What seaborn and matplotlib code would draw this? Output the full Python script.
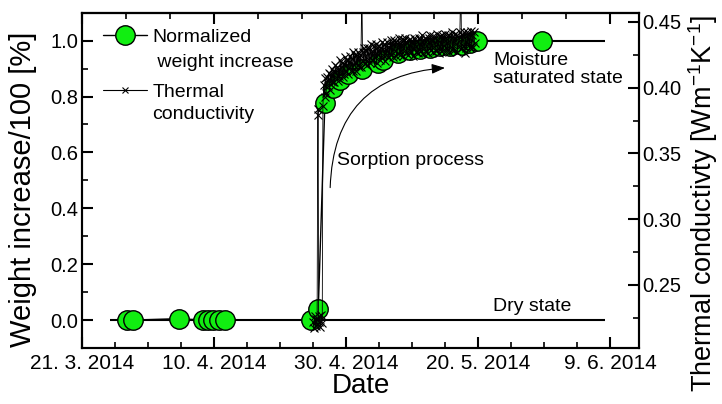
import matplotlib
matplotlib.use("Agg")
import matplotlib.pyplot as plt
import seaborn as sns
from matplotlib.ticker import MultipleLocator
from matplotlib.lines import Line2D

# ---------------- data (days since 21.3.2014) ----------------
x_tick_days = [0, 20, 40, 60, 80]
x_tick_labels = ["21. 3. 2014", "10. 4. 2014", "30. 4. 2014", "20. 5. 2014", "9. 6. 2014"]

weight_days = [6.8, 7.8, 14.7, 18.4, 19.1, 19.9, 20.8, 21.7, 34.7, 35.8,
               36.8, 38.0, 39.1, 40.3, 42.4, 44.8, 45.6, 47.9, 49.7, 51.2,
               52.7, 54.2, 55.8, 57.6, 58.8, 59.8, 69.7]
weight_vals = [0.0, 0.0, 0.005, 0.0, 0.0, 0.0, 0.0, 0.0, 0.0, 0.04,
               0.776, 0.83, 0.86, 0.88, 0.90, 0.92, 0.93, 0.955, 0.965, 0.97,
               0.975, 0.98, 0.98, 0.985, 0.99, 1.0, 1.0]

cond_days = [35.00, 35.12, 35.25, 35.38, 35.50, 35.62, 35.72, 35.78, 35.85, 35.97,
             36.10, 36.25, 36.40,
             36.500, 36.625, 36.750, 36.875, 37.000, 37.125, 37.250, 37.375,
             37.500, 37.625, 37.750, 37.875, 38.000, 38.125, 38.250, 38.375,
             38.500, 38.625, 38.750, 38.875, 39.000, 39.125, 39.250, 39.375,
             39.500, 39.625, 39.750, 39.875, 40.000, 40.125, 40.250, 40.375,
             40.500, 40.625, 40.750, 40.875, 41.000, 41.125, 41.250, 41.375,
             41.500, 41.625, 41.750, 41.875, 42.000, 42.125, 42.250, 42.400,
             42.500, 42.625, 42.750, 42.875, 43.000, 43.125, 43.250, 43.375,
             43.500, 43.625, 43.750, 43.875, 44.000, 44.125, 44.250, 44.375,
             44.500, 44.625, 44.750, 44.875, 45.000, 45.125, 45.250, 45.375,
             45.500, 45.625, 45.750, 45.875, 46.000, 46.125, 46.250, 46.375,
             46.500, 46.625, 46.750, 46.875, 47.000, 47.125, 47.250, 47.375,
             47.500, 47.625, 47.750, 47.875, 48.000, 48.125, 48.250, 48.375,
             48.500, 48.625, 48.750, 48.875, 49.000, 49.125, 49.250, 49.375,
             49.500, 49.625, 49.750, 49.875, 50.000, 50.125, 50.250, 50.375,
             50.500, 50.625, 50.750, 50.875, 51.000, 51.125, 51.250, 51.375,
             51.500, 51.625, 51.750, 51.875, 52.000, 52.125, 52.250, 52.375,
             52.500, 52.625, 52.750, 52.875, 53.000, 53.125, 53.250, 53.375,
             53.500, 53.625, 53.750, 53.875, 54.000, 54.125, 54.250, 54.375,
             54.500, 54.625, 54.750, 54.875, 55.000, 55.125, 55.250, 55.375,
             55.500, 55.625, 55.750, 55.875, 56.000, 56.125, 56.250, 56.375,
             56.500, 56.625, 56.750, 56.875, 57.000, 57.125, 57.250, 57.400,
             57.500, 57.625, 57.750, 57.875, 58.000, 58.125, 58.250, 58.375,
             58.500, 58.625, 58.750, 58.875, 59.000, 59.125, 59.250, 59.375,
             59.500]
cond_vals = [0.222, 0.217, 0.226, 0.219, 0.224, 0.220, 0.379, 0.384, 0.222, 0.226,
             0.218, 0.227, 0.221,
             0.386, 0.402, 0.393, 0.407, 0.396, 0.408, 0.401, 0.411,
             0.398, 0.410, 0.405, 0.414, 0.404, 0.412, 0.404, 0.417,
             0.408, 0.416, 0.405, 0.414, 0.409, 0.421, 0.411, 0.419,
             0.408, 0.418, 0.410, 0.423, 0.413, 0.421, 0.410, 0.421,
             0.416, 0.424, 0.413, 0.422, 0.413, 0.427, 0.417, 0.425,
             0.413, 0.425, 0.417, 0.427, 0.416, 0.425, 0.416, 0.478,
             0.427, 0.420, 0.430, 0.418, 0.428, 0.417, 0.430, 0.422,
             0.430, 0.419, 0.433, 0.421, 0.428, 0.421, 0.432, 0.423,
             0.433, 0.419, 0.431, 0.425, 0.432, 0.421, 0.430, 0.423,
             0.435, 0.425, 0.433, 0.420, 0.432, 0.425, 0.435, 0.423,
             0.431, 0.426, 0.436, 0.425, 0.434, 0.423, 0.436, 0.428,
             0.435, 0.424, 0.433, 0.426, 0.438, 0.425, 0.434, 0.428,
             0.437, 0.424, 0.436, 0.429, 0.438, 0.426, 0.434, 0.425,
             0.436, 0.428, 0.437, 0.427, 0.435, 0.424, 0.438, 0.430,
             0.437, 0.427, 0.435, 0.426, 0.438, 0.429, 0.437, 0.428,
             0.440, 0.426, 0.436, 0.430, 0.438, 0.427, 0.436, 0.426,
             0.438, 0.430, 0.440, 0.429, 0.437, 0.427, 0.439, 0.431,
             0.438, 0.428, 0.441, 0.430, 0.436, 0.426, 0.439, 0.430,
             0.440, 0.429, 0.438, 0.432, 0.441, 0.428, 0.437, 0.430,
             0.440, 0.427, 0.439, 0.431, 0.442, 0.429, 0.439, 0.429,
             0.441, 0.433, 0.440, 0.427, 0.438, 0.431, 0.442, 0.482,
             0.430, 0.440, 0.432, 0.442, 0.426, 0.439, 0.430, 0.442,
             0.433, 0.441, 0.430, 0.443, 0.432, 0.440, 0.431, 0.442,
             0.434]

GREEN = "#11ee11"

# ---------------- style ----------------
sns.set_style("ticks")
plt.rcParams["font.family"] = ["Liberation Sans", "DejaVu Sans"]
plt.rcParams["mathtext.default"] = "regular"
for key in ("text.color", "axes.labelcolor", "xtick.color", "ytick.color", "axes.edgecolor"):
    plt.rcParams[key] = "black"

fig = plt.figure(figsize=(7.22, 4.04), dpi=100)
ax = fig.add_axes([0.1136, 0.1386, 0.7715, 0.83])
ax2 = ax.twinx()

# reference lines (dry / saturated state)
ax.hlines(0.0, 4.2, 79.2, color="black", lw=1.5, zorder=1)
ax.hlines(1.0, 59.8, 79.2, color="black", lw=1.5, zorder=1)

sns.lineplot(x=weight_days, y=weight_vals, ax=ax, color="black", lw=1.0,
             marker="o", markersize=14, markerfacecolor=GREEN,
             markeredgecolor="black", markeredgewidth=1.0,
             estimator=None, sort=False, legend=False, zorder=3)

sns.lineplot(x=cond_days, y=cond_vals, ax=ax2, color="black", lw=0.6,
             marker="x", markersize=5.5, markeredgewidth=0.8,
             markeredgecolor="black", estimator=None, sort=False, legend=False)

# axes limits
ax.set_xlim(0, 84.4)
ax.set_ylim(-0.1, 1.1)
ax2.set_ylim(0.202, 0.457)

# ticks
ax.set_xticks(x_tick_days, labels=x_tick_labels)
ax.xaxis.set_minor_locator(MultipleLocator(5))
ax.set_yticks([0.0, 0.2, 0.4, 0.6, 0.8, 1.0], labels=["0.0", "0.2", "0.4", "0.6", "0.8", "1.0"])
ax.yaxis.set_minor_locator(MultipleLocator(0.1))
ax2.set_yticks([0.25, 0.30, 0.35, 0.40, 0.45], labels=["0.25", "0.30", "0.35", "0.40", "0.45"])
ax2.yaxis.set_minor_locator(MultipleLocator(0.025))

ax.tick_params(axis="x", which="major", direction="in", length=8, width=1.5, labelsize=15, pad=4, top=False)
ax.tick_params(axis="x", which="minor", direction="in", length=4.5, width=1.2, top=False)
ax.tick_params(axis="y", which="major", direction="in", length=8, width=1.5, labelsize=14.5, pad=2.5, right=False)
ax.tick_params(axis="y", which="minor", direction="in", length=4.5, width=1.2, right=False)
ax2.tick_params(axis="y", which="major", direction="in", length=8, width=1.5, labelsize=14.5, pad=2.5)
ax2.tick_params(axis="y", which="minor", direction="in", length=4.5, width=1.2)

sec = ax.secondary_xaxis("top")
sec.set_xticks(x_tick_days, labels=[""] * len(x_tick_days))
sec.xaxis.set_minor_locator(MultipleLocator(20 / 3))
sec.tick_params(axis="x", which="major", direction="in", length=8, width=1.5)
sec.tick_params(axis="x", which="minor", direction="in", length=4.5, width=1.2)

for a in (ax, ax2):
    for s in a.spines.values():
        s.set_linewidth(1.5)
        s.set_color("black")
        s.set_visible(True)
for s in sec.spines.values():
    s.set_linewidth(1.5)
    s.set_color("black")

# labels
ax.set_xlabel("Date", fontsize=20, labelpad=0)
ax.set_ylabel("Weight increase/100 [%]", fontsize=21)
ax.yaxis.set_label_coords(-0.08, 0.474)
ax2.set_ylabel(r"Thermal conductivty [Wm$^{-1}$K$^{-1}$]", fontsize=19.5)
ax2.yaxis.set_label_coords(1.084, 0.43)

# annotations
ax.text(62.3, 0.032, "Dry state", fontsize=14, va="baseline", ha="left")
ax.text(62.3, 0.958, "Moisture\nsaturated state", fontsize=14, va="top", ha="left",
        linespacing=1.05)
ax.text(38.6, 0.554, "Sorption process", fontsize=14, va="baseline", ha="left")
ax.annotate("", xy=(55.0, 0.9025), xytext=(37.6, 0.474),
            arrowprops=dict(arrowstyle="-|>,head_length=0.8,head_width=0.3",
                            connectionstyle="arc3,rad=-0.45", color="black",
                            lw=0.8, shrinkA=0, shrinkB=0))

# legend
h1 = Line2D([], [], color="black", lw=1.0, marker="o", markersize=14,
            markerfacecolor=GREEN, markeredgecolor="black", markeredgewidth=1.0)
h2 = Line2D([], [], color="black", lw=0.8, marker="x", markersize=5,
            markeredgewidth=0.8)
ax2.legend([h1, h2], ["Normalized", "Thermal"], loc="upper left",
           bbox_to_anchor=(0.0377, 0.954), frameon=False, fontsize=14,
           handlelength=2.26, handletextpad=0.3, labelspacing=1.95,
           borderpad=0, borderaxespad=0, numpoints=1, labelcolor="black")
ax2.text(0.1257, 0.838, " weight increase", transform=ax.transAxes, fontsize=14, va="baseline")
ax2.text(0.1257, 0.683, "conductivity", transform=ax.transAxes, fontsize=14, va="baseline")

fig.savefig("out.png", dpi=100)
